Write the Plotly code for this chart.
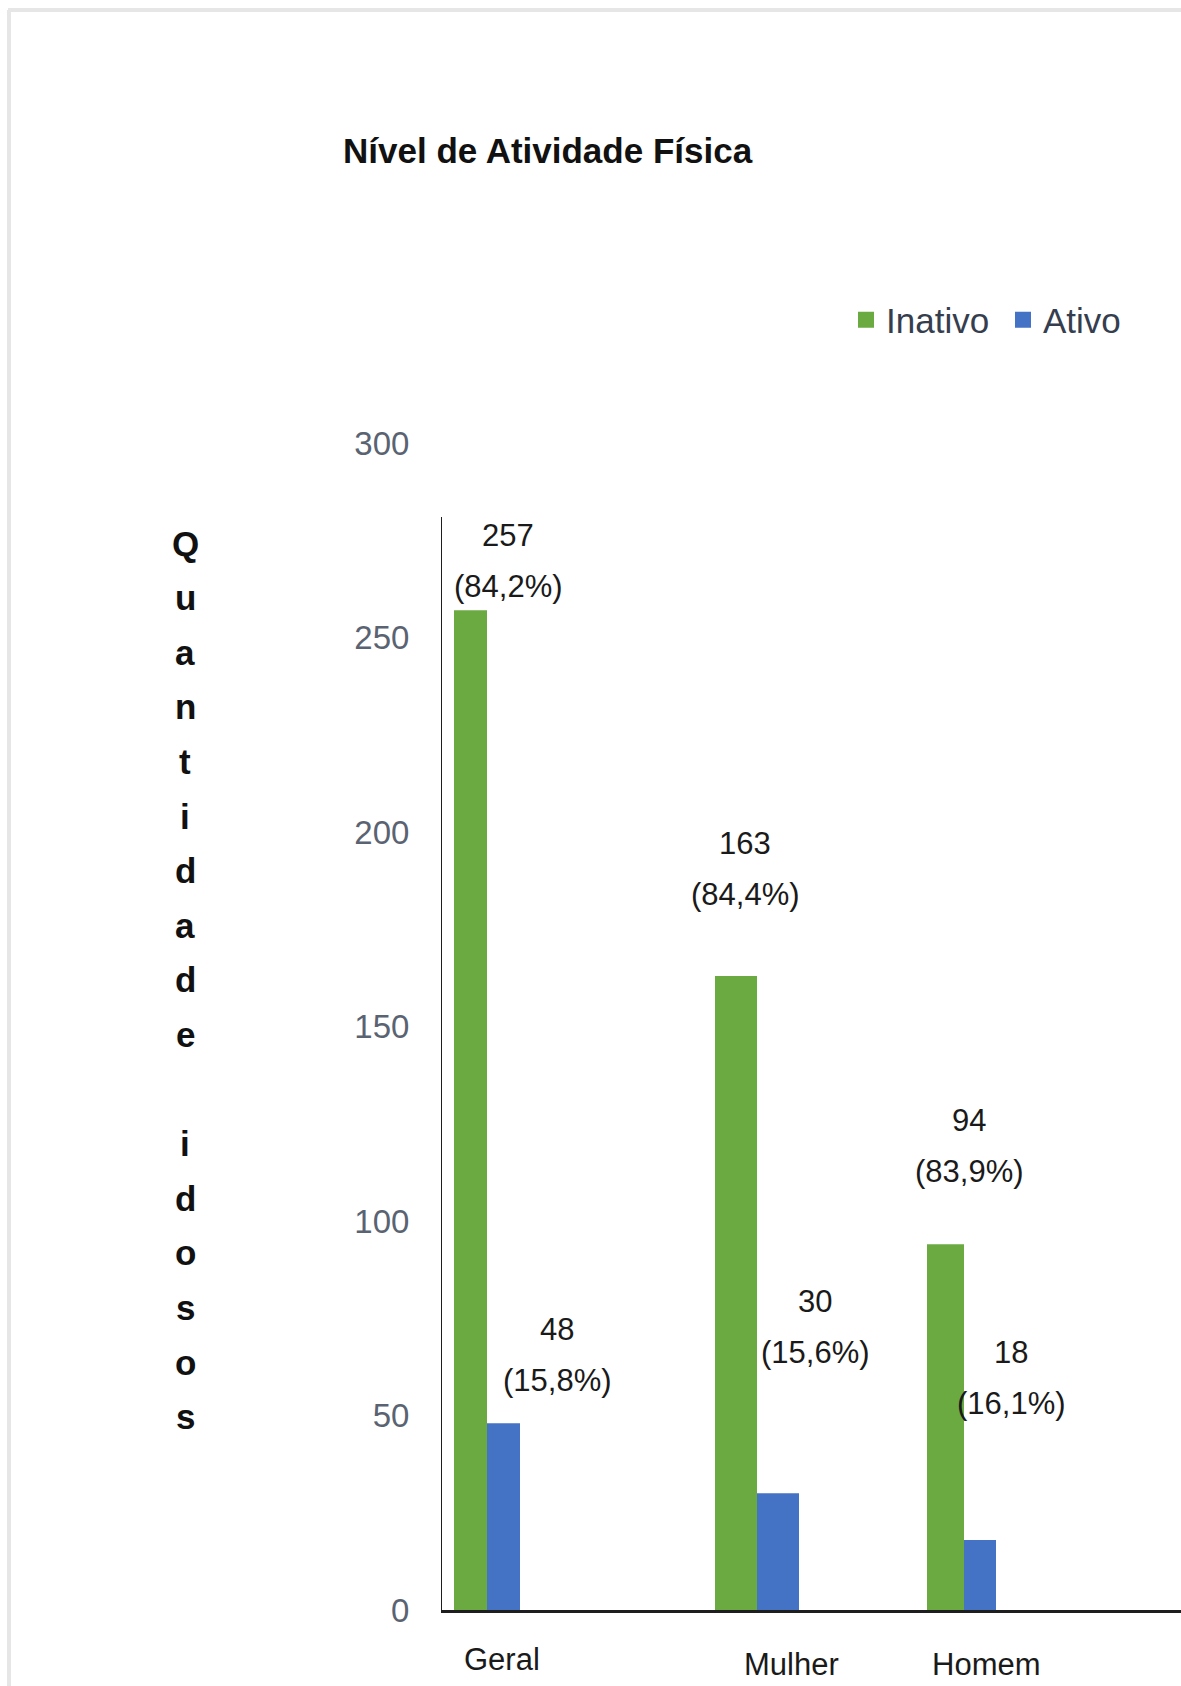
import plotly.graph_objects as go

# ---- data -------------------------------------------------------------
categories = ["Geral", "Mulher", "Homem"]
inativo = [257, 163, 94]
ativo = [48, 30, 18]
inativo_pct = ["84,2%", "84,4%", "83,9%"]
ativo_pct = ["15,8%", "15,6%", "16,1%"]
y_ticks = [0, 50, 100, 150, 200, 250, 300]

title_text = "Nível de Atividade Física"
y_title = "Quantidade idosos"

# ---- page geometry (pixels) --------------------------------------------
W, H = 1181, 1686
PL, PR, PT, PB = 441, 1181, 443, 1610      # plot area edges


def px(x):
    return (x - PL) / (PR - PL)


def py(y):
    return (PB - y) / (PB - PT)


FONT = "Liberation Sans, Arial, sans-serif"

GREEN = "#6aaa41"
BLUE = "#4472c4"

# group centres on the x axis (axis runs in page pixels) and bar widths
centres = [487, 757, 964]
w_in = [33, 42, 37]
w_at = [33, 42, 32]

fig = go.Figure()
fig.add_trace(go.Bar(
    name="Inativo", x=centres, y=inativo, width=w_in,
    offset=[-w for w in w_in], marker=dict(color=GREEN, line=dict(width=0)),
    hovertext=categories, showlegend=False,
))
fig.add_trace(go.Bar(
    name="Ativo", x=centres, y=ativo, width=w_at,
    offset=[0, 0, 0], marker=dict(color=BLUE, line=dict(width=0)),
    hovertext=categories, showlegend=False,
))
# legend entries with larger square keys
for name, col in (("Inativo", GREEN), ("Ativo", BLUE)):
    fig.add_trace(go.Scatter(
        name=name, x=[None], y=[None], mode="markers",
        marker=dict(symbol="square", size=16, color=col), showlegend=True,
    ))

ann = []
# title
ann.append(dict(text="<b>" + title_text + "</b>", x=px(548), y=py(150),
                xref="paper", yref="paper", showarrow=False,
                font=dict(family=FONT, size=35, color="#111111"),
                xanchor="center", yanchor="middle"))

# stacked vertical axis title, one character per line
y0, step = 543, 54.6
for i, ch in enumerate(y_title):
    if ch == " ":
        continue
    ann.append(dict(text="<b>" + ch + "</b>", x=px(185), y=py(y0 + i * step),
                    xref="paper", yref="paper", showarrow=False,
                    font=dict(family=FONT, size=35, color="#111111"),
                    xanchor="center", yanchor="middle"))

# value labels: count on the first line, share on the second
label_pos_in = [(508, 535), (745, 843), (969, 1120)]
label_pos_at = [(557, 1329), (815, 1301), (1011, 1352)]
line_gap = 51
for vals, pcts, pos in ((inativo, inativo_pct, label_pos_in),
                        (ativo, ativo_pct, label_pos_at)):
    for v, p, (lx, ly) in zip(vals, pcts, pos):
        for t, yy in ((str(v), ly), ("(" + p + ")", ly + line_gap)):
            ann.append(dict(text=t, x=px(lx), y=py(yy), xref="paper",
                            yref="paper", showarrow=False,
                            font=dict(family=FONT, size=31, color="#1a1a1a"),
                            xanchor="center", yanchor="middle"))

# category labels below the axis
cat_pos = [(502, 1659), (791, 1664), (986, 1664)]
for c, (cx, cy) in zip(categories, cat_pos):
    ann.append(dict(text=c, x=px(cx), y=py(cy), xref="paper", yref="paper",
                    showarrow=False,
                    font=dict(family=FONT, size=31, color="#1a1a1a"),
                    xanchor="center", yanchor="middle"))

shapes = [
    # vertical axis line (stops short of the top tick)
    dict(type="line", xref="x", yref="y", x0=PL, x1=PL, y0=0, y1=281,
         line=dict(color="#1e1e1e", width=2)),
    # light frame around the page
    dict(type="line", xref="paper", yref="paper", x0=px(8), x1=px(W),
         y0=py(10), y1=py(10), line=dict(color="#e6e6e6", width=4)),
    dict(type="line", xref="paper", yref="paper", x0=px(9), x1=px(9),
         y0=py(10), y1=py(H), line=dict(color="#e6e6e6", width=4)),
]

fig.update_layout(
    width=W, height=H,
    margin=dict(l=PL, r=W - PR, t=PT, b=H - PB, pad=0),
    paper_bgcolor="white", plot_bgcolor="white",
    barmode="overlay",
    showlegend=True,
    legend=dict(orientation="h", x=px(846), y=py(320), xanchor="left",
                yanchor="middle", font=dict(family=FONT, size=35,
                                            color="#353e4e"),
                itemwidth=30, entrywidth=112, entrywidthmode="pixels",
                tracegroupgap=0, bgcolor="rgba(0,0,0,0)"),
    xaxis=dict(range=[PL, PR], showticklabels=False, showgrid=False,
               zeroline=False, showline=True, linecolor="#1e1e1e",
               linewidth=3, ticks=""),
    yaxis=dict(range=[0, 300], tickvals=y_ticks, showgrid=False,
               zeroline=False, showline=False, ticks="outside", ticklen=24,
               tickcolor="rgba(0,0,0,0)",
               tickfont=dict(family=FONT, size=33, color="#5a6372")),
    annotations=ann,
    shapes=shapes,
)

fig.write_html("out.html")
